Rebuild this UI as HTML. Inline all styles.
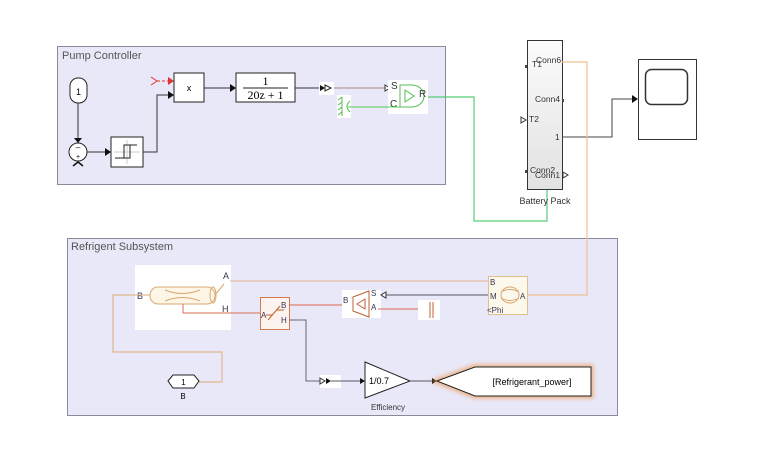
<!DOCTYPE html>
<html><head><meta charset="utf-8"><style>
html,body{margin:0;padding:0;background:#fff;}
svg{display:block;font-family:"Liberation Sans",sans-serif;}
</style></head><body>
<svg width="770" height="460" viewBox="0 0 770 460" xmlns="http://www.w3.org/2000/svg">
<defs>
<linearGradient id="bg" x1="0" y1="0" x2="0" y2="1"><stop offset="0" stop-color="#fbfbfb"/><stop offset="1" stop-color="#e2e2e2"/></linearGradient>
<filter id="glow" x="-10%" y="-30%" width="120%" height="160%"><feGaussianBlur stdDeviation="2.5"/></filter>
</defs>
<!-- Pump Controller -->
<rect x="57.5" y="46.5" width="388" height="138" fill="#e8e8f8" stroke="#8a8a99"/>
<text x="62" y="59" font-size="11" fill="#555">Pump Controller</text>
<rect x="70" y="78" width="17" height="25" rx="8" fill="#fff" stroke="#222"/>
<text x="78.5" y="95" font-size="9" text-anchor="middle">1</text>
<line x1="78" y1="103" x2="78" y2="140" stroke="#333"/>
<polygon points="74,138 82,138 78,143" fill="#111"/>
<circle cx="78" cy="152" r="9" fill="#fff" stroke="#222"/>
<text x="78" y="150" font-size="8" text-anchor="middle">–</text>
<text x="78" y="159" font-size="7" text-anchor="middle">+</text>
<path d="M73,166 L78,162 L83,166" fill="none" stroke="#111" stroke-width="1.5"/>
<line x1="87" y1="152" x2="107" y2="152" stroke="#333"/>
<polygon points="105,148 111,152 105,156" fill="#111"/>
<rect x="111" y="137" width="32" height="30" fill="#fff" stroke="#222"/>
<line x1="127" y1="140" x2="127" y2="164" stroke="#ccc"/><line x1="114" y1="152" x2="140" y2="152" stroke="#ccc"/>
<path d="M115,158 H124 V145 H137 M124,158 H130 V145" fill="none" stroke="#222"/>
<path d="M143,152 H157 V95 H170" fill="none" stroke="#333"/>
<polygon points="168,91 174,95 168,99" fill="#111"/>
<path d="M151,77 L157,81 L151,85" fill="none" stroke="#d33"/>
<line x1="157" y1="81" x2="170" y2="81" stroke="#d33" stroke-dasharray="3,2"/>
<polygon points="168,77 174,81 168,85" fill="#d33"/>
<rect x="174" y="73" width="30" height="29" fill="#fff" stroke="#222"/>
<text x="189" y="91" font-size="9" text-anchor="middle">x</text>
<line x1="204" y1="88" x2="232" y2="88" stroke="#334"/>
<polygon points="230,84 236,88 230,92" fill="#111"/>
<rect x="236" y="73" width="59" height="29" fill="#fff" stroke="#222"/>
<text x="265.5" y="85" font-size="12" text-anchor="middle" font-family="Liberation Serif">1</text>
<line x1="243" y1="88" x2="288" y2="88" stroke="#222"/>
<text x="265.5" y="99" font-size="12" text-anchor="middle" font-family="Liberation Serif">20z + 1</text>
<line x1="295" y1="88" x2="320" y2="88" stroke="#334"/>
<rect x="319" y="82" width="15" height="13" fill="#fff"/>
<polygon points="320,85 325,88 320,91" fill="#111"/>
<polygon points="325,85 331,88 325,91" fill="#fff" stroke="#222"/>
<line x1="334" y1="88" x2="386" y2="88" stroke="#a88"/>
<polygon points="385,85 390,88 385,91" fill="#fff" stroke="#333"/>
<rect x="388" y="80" width="40" height="34" fill="#fff"/>
<text x="391" y="89" font-size="10" fill="#333">S</text>
<text x="390" y="107" font-size="10" fill="#333">C</text>
<path d="M400,85 H412 A12,11 0 0 1 412,107 H400 Z" fill="none" stroke="#5b5"/>
<polygon points="405,90 414,96 405,102" fill="none" stroke="#5b5"/>
<text x="419" y="97" font-size="10" fill="#333">R</text>
<rect x="337" y="95" width="14" height="23" fill="#fff"/>
<line x1="342" y1="97" x2="342" y2="116" stroke="#5b5"/>
<path d="M338,100 l4,-3 M338,105 l4,-3 M338,110 l4,-3 M338,115 l4,-3" stroke="#5b5"/>
<path d="M350,101 Q344,106 350,112" fill="none" stroke="#5b5"/>
<line x1="348" y1="107" x2="400" y2="107" stroke="#5c5"/>
<!-- green connector -->
<path d="M428,97 H474 V221 H547 V189" fill="none" stroke="#5c7" stroke-width="1.2"/>
<!-- Battery -->
<rect x="527.5" y="40.5" width="35" height="149" fill="url(#bg)" stroke="#333"/>
<text x="545" y="204" font-size="9" text-anchor="middle" fill="#333">Battery Pack</text>
<g font-size="8.5" fill="#333">
<text x="532" y="67">T1</text><text x="536" y="63">Conn6</text>
<text x="535" y="102">Conn4</text>
<text x="529" y="122">T2</text>
<text x="555" y="140">1</text>
<text x="530" y="173">Conn2</text><text x="535" y="178">Conn1</text>
</g>
<polygon points="521,117 526,120 521,123" fill="none" stroke="#333"/>
<polygon points="563,172 568,175 563,178" fill="none" stroke="#333"/>
<rect x="525" y="65" width="2" height="3" fill="#444"/><rect x="562" y="99" width="2" height="3" fill="#444"/><rect x="525" y="170" width="2" height="3" fill="#444"/>
<path d="M562,137 H612 V99 H633" fill="none" stroke="#444"/>
<polygon points="632,95 638,99 632,103" fill="#111"/>
<!-- Scope -->
<rect x="638.5" y="59.5" width="58" height="80" fill="#fff" stroke="#333"/>
<rect x="645.5" y="69.5" width="42" height="35" rx="6" fill="#fff" stroke="#333" stroke-width="1.5"/>
<!-- Refrigent Subsystem -->
<rect x="67.5" y="238.5" width="550" height="177" fill="#e8e8f8" stroke="#8a8a99"/>
<text x="71" y="250" font-size="11" fill="#555">Refrigent Subsystem</text>
<path d="M562,62 H587 V295 H528" fill="none" stroke="#f0c090" stroke-width="1.2"/>
<rect x="135" y="265" width="96" height="65" fill="#fff"/>
<rect x="150" y="287" width="65" height="17" rx="8" fill="#fdf6e6" stroke="#d9a870"/>
<path d="M165,290 Q182,297 200,290 M165,301 Q182,294 200,301" fill="none" stroke="#d9a870"/>
<ellipse cx="213" cy="295" rx="3" ry="8" fill="none" stroke="#d9a870"/>
<text x="137" y="299" font-size="9" fill="#335">B</text>
<text x="223" y="279" font-size="9" fill="#335">A</text>
<text x="222" y="312" font-size="9" fill="#335">H</text>
<path d="M230,281 H490" fill="none" stroke="#e8b090"/>
<path d="M215,295 L224,284" stroke="#d9a870"/>
<path d="M150,295 H113 V352 H222 V382 H199" fill="none" stroke="#e0b890" stroke-width="1.2"/>
<polygon points="168,381 173,375 194,375 199,381 194,388 173,388" fill="#fff" stroke="#222"/>
<text x="183.5" y="385" font-size="8" text-anchor="middle">1</text>
<text x="183" y="399" font-size="8" text-anchor="middle">B</text>
<path d="M183,304 V313 H260" fill="none" stroke="#d77050"/>
<rect x="260.5" y="297.5" width="29" height="32" fill="#fdf3ee" stroke="#d47a50"/>
<path d="M268,320 L280,306 M266,315 h6 M276,310 h8" stroke="#c06030" fill="none"/>
<text x="261" y="318" font-size="8" fill="#335">A</text>
<text x="281" y="308" font-size="8" fill="#335">B</text>
<text x="281" y="323" font-size="8" fill="#335">H</text>
<line x1="289" y1="305" x2="346" y2="305" stroke="#e06850"/>
<rect x="342" y="290" width="39" height="28" fill="#fff"/>
<polygon points="353,297 369,291 369,317 353,311" fill="none" stroke="#c06030"/>
<polygon points="357,304 365,299 365,309" fill="none" stroke="#c06030"/>
<text x="343" y="303" font-size="8" fill="#335">B</text>
<text x="371" y="296" font-size="8" fill="#335">S</text>
<text x="371" y="310" font-size="8" fill="#335">A</text>
<line x1="378" y1="309" x2="432" y2="309" stroke="#e06850"/>
<rect x="418" y="300" width="22" height="20" fill="#fff"/>
<line x1="430" y1="302" x2="430" y2="318" stroke="#c06030"/><line x1="433" y1="302" x2="433" y2="318" stroke="#c06030"/>
<line x1="385" y1="295" x2="490" y2="295" stroke="#556"/>
<polygon points="386,292 381,295 386,298" fill="#fff" stroke="#333"/>
<rect x="488.5" y="276.5" width="39" height="38" fill="#fdf8ec" stroke="#e0c090"/>
<ellipse cx="510" cy="295" rx="9" ry="8" fill="none" stroke="#d9a870"/>
<path d="M501,292 Q510,287 519,292 M501,298 Q510,303 519,298" fill="none" stroke="#d9a870"/>
<text x="490" y="285" font-size="8" fill="#335">B</text>
<text x="490" y="299" font-size="8" fill="#335">M</text>
<text x="520" y="299" font-size="8" fill="#335">A</text>
<text x="487" y="313" font-size="8" fill="#335">&lt;Phi</text>
<path d="M289,320 H306 V381 H321" fill="none" stroke="#667"/>
<rect x="320" y="375" width="21" height="13" fill="#fff"/>
<polygon points="320,378 325,381 320,384" fill="#fff" stroke="#333"/>
<polygon points="326,378 331,381 326,384" fill="#111"/>
<line x1="331" y1="381" x2="361" y2="381" stroke="#556"/>
<polygon points="360,378 365,381 360,384" fill="#111"/>
<polygon points="365,362 410,381 365,398" fill="#fff" stroke="#222"/>
<text x="369" y="384" font-size="9">1/0.7</text>
<text x="388" y="410" font-size="8" text-anchor="middle" fill="#333">Efficiency</text>
<line x1="410" y1="381" x2="433" y2="381" stroke="#556"/>
<polygon points="432,378 437,381 432,384" fill="#111"/>
<polygon points="437,381 475,367 591,367 591,396 475,396" fill="none" stroke="#f0a060" stroke-width="4" filter="url(#glow)"/>
<polygon points="437,381 475,367 591,367 591,396 475,396" fill="#fff" stroke="#222"/>
<text x="532" y="385" font-size="9" text-anchor="middle">[Refrigerant_power]</text>
</svg>
</body></html>
